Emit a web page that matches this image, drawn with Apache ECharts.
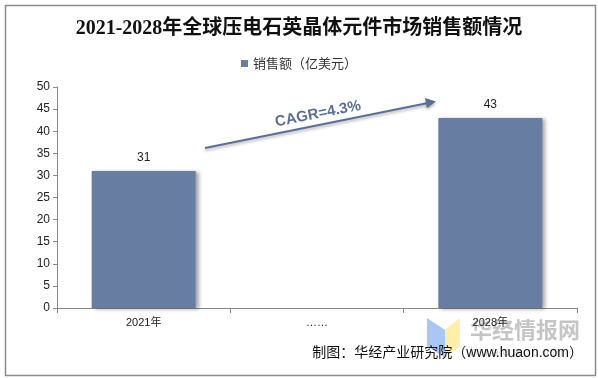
<!DOCTYPE html>
<html>
<head>
<meta charset="utf-8">
<script src="https://cdn.jsdelivr.net/npm/echarts@6/dist/echarts.min.js"></script>
<style>
  html, body { margin: 0; padding: 0; background: #fff; }
  #chart { width: 598px; height: 378px; }
</style>
</head>
<body>
<div id="chart"></div>
<script>
// data
const years = ['2021年', '……', '2028年'];
const sales = [31, null, 43];
const seriesName = '销售额（亿美元）';
const yTicks = { min: 0, max: 50, interval: 5 };
const cagrText = 'CAGR=4.3%';

const barColor = '#687da2';
const chart = echarts.init(document.getElementById('chart'));

const option = {
  backgroundColor: '#fff',
  animation: false,
  title: {
    text: '2021-2028年全球压电石英晶体元件市场销售额情况',
    left: 'center',
    top: 14,
    textStyle: {
      fontFamily: '"Liberation Serif", "Noto Sans CJK SC"',
      fontSize: 20,
      fontWeight: 'bold',
      color: '#111'
    }
  },
  legend: {
    top: 52,
    left: 'center',
    itemWidth: 7,
    itemHeight: 7,
    itemGap: 4,
    icon: 'rect',
    textStyle: { fontFamily: '"Noto Sans CJK SC"', fontSize: 13, color: '#333' },
    data: [seriesName]
  },
  grid: { left: 57, right: 21, top: 87, bottom: 70, containLabel: false },
  xAxis: {
    type: 'category',
    data: years,
    axisLine: { lineStyle: { color: '#888' } },
    axisTick: { show: true, alignWithLabel: false, length: 5, lineStyle: { color: '#888' } },
    axisLabel: { color: '#222', fontSize: 11, fontFamily: 'Arial, "Liberation Sans", "Noto Sans CJK SC"', margin: 9 }
  },
  yAxis: {
    type: 'value',
    min: yTicks.min,
    max: yTicks.max,
    interval: yTicks.interval,
    axisLine: { show: true, lineStyle: { color: '#888' } },
    axisTick: { show: true, length: 4, lineStyle: { color: '#888' } },
    splitLine: { show: false },
    axisLabel: { color: '#222', fontSize: 12, fontFamily: 'Arial, "Liberation Sans"', margin: 7 }
  },
  series: [{
    name: seriesName,
    type: 'bar',
    data: sales,
    barWidth: '60%',
    itemStyle: {
      color: barColor,
      shadowColor: 'rgba(0,0,0,0.35)',
      shadowBlur: 4,
      shadowOffsetX: 3,
      shadowOffsetY: 1
    },
    label: {
      show: true,
      position: 'top',
      distance: 7,
      color: '#222',
      fontSize: 12,
      fontFamily: 'Arial, "Liberation Sans"'
    }
  }],
  graphic: [
    // outer frame
    {
      type: 'rect', left: 3, top: 3, z: -1,
      shape: { width: 590, height: 370 },
      style: { fill: null, stroke: '#8a8a8a', lineWidth: 1.5 }
    },
    // CAGR arrow
    {
      type: 'line',
      shape: { x1: 205, y1: 148, x2: 428, y2: 103 },
      style: { stroke: '#5b6f96', lineWidth: 2, shadowColor: 'rgba(0,0,0,0.3)', shadowBlur: 3, shadowOffsetY: 2 }
    },
    {
      type: 'polygon',
      shape: { points: [[436, 101.5], [425, 98], [427, 108]] },
      style: { fill: '#5b6f96', shadowColor: 'rgba(0,0,0,0.3)', shadowBlur: 3, shadowOffsetY: 2 }
    },
    {
      type: 'text',
      x: 318, y: 114, rotation: 11.3 * Math.PI / 180,
      style: {
        text: cagrText, align: 'center', verticalAlign: 'middle',
        font: 'bold 15px Arial, "Liberation Sans"', fill: '#5b6f96',
        shadowColor: 'rgba(0,0,0,0.3)', shadowBlur: 3, shadowOffsetY: 2
      }
    },
    // watermark
    {
      type: 'polygon',
      shape: { points: [[427, 318], [445, 330], [445, 358], [427, 346]] },
      style: { fill: 'rgba(140,180,240,0.75)' }
    },
    {
      type: 'polygon',
      shape: { points: [[445, 330], [460, 318], [460, 346], [445, 358]] },
      style: { fill: 'rgba(255,235,150,0.8)' }
    },
    {
      type: 'text', x: 470, y: 330,
      style: {
        text: '华经情报网', verticalAlign: 'middle',
        font: 'bold 22px "Noto Sans CJK SC"', fill: 'rgba(150,150,150,0.55)'
      }
    },
    {
      type: 'text', x: 470, y: 352,
      style: {
        text: 'h u a o n . c o m', verticalAlign: 'middle',
        font: '13px Arial', fill: 'rgba(170,170,170,0.45)'
      }
    },
    // source note
    {
      type: 'text', right: 15, top: 346,
      style: {
        text: '制图：华经产业研究院（www.huaon.com）',
        font: '14px Arial, "Noto Sans CJK SC"', fill: '#111'
      }
    }
  ]
};

chart.setOption(option);
</script>
</body>
</html>
